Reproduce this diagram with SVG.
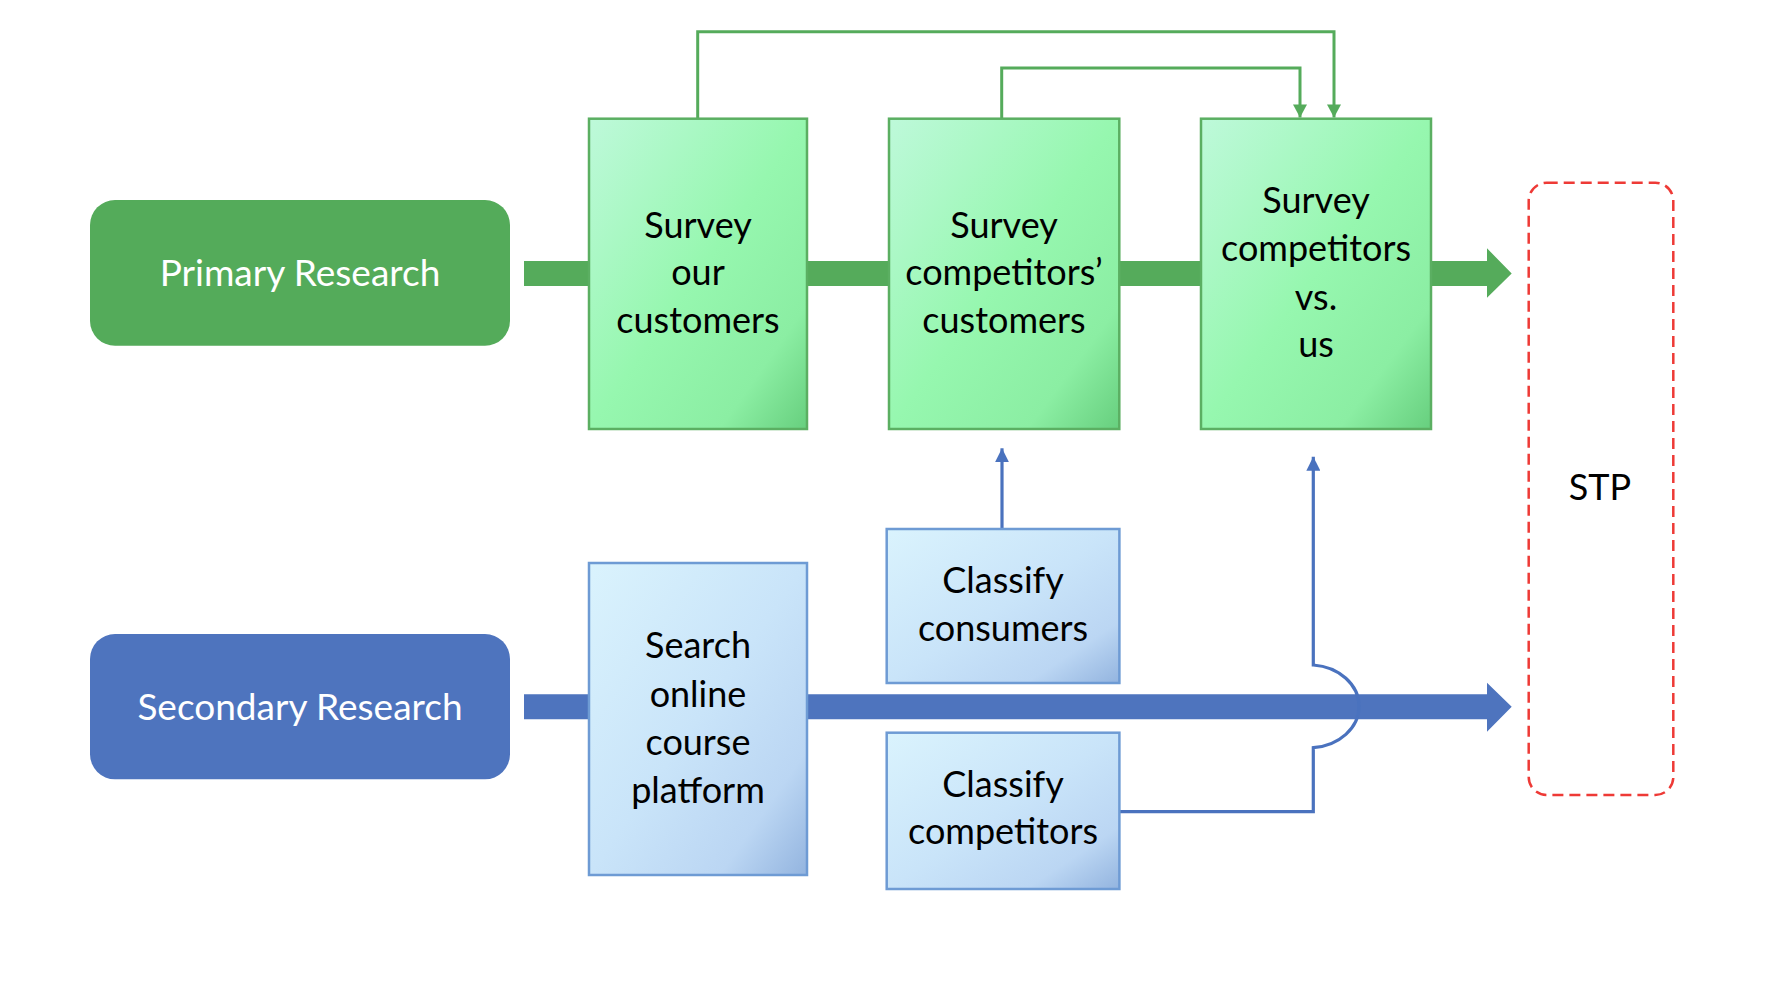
<svg xmlns="http://www.w3.org/2000/svg" width="1788" height="986" viewBox="0 0 1788 986">
<defs>
<linearGradient id="gGreen" x1="0" y1="0" x2="1" y2="1">
<stop offset="0" stop-color="#BEF9DA"/>
<stop offset="0.5" stop-color="#96F7AF"/>
<stop offset="0.8" stop-color="#8BEEA3"/>
<stop offset="1" stop-color="#67CF7E"/>
</linearGradient>
<linearGradient id="gBlue" x1="0" y1="0" x2="1" y2="1">
<stop offset="0" stop-color="#DAF3FD"/>
<stop offset="0.5" stop-color="#C9E4F9"/>
<stop offset="0.8" stop-color="#BBD6F3"/>
<stop offset="1" stop-color="#93B4DF"/>
</linearGradient>
<marker id="arrG" markerUnits="userSpaceOnUse" markerWidth="14" markerHeight="14" viewBox="0 0 12 13" refX="12" refY="6.5" orient="auto">
<path d="M0,0 L12,6.5 L0,13 Z" fill="#55AB5B"/>
</marker>
<marker id="arrB" markerUnits="userSpaceOnUse" markerWidth="14" markerHeight="14" viewBox="0 0 13 13" refX="13" refY="6.5" orient="auto">
<path d="M0,0 L13,6.5 L0,13 Z" fill="#4A72BE"/>
</marker>
</defs>
<style>
.t{font-family:Lato,"Open Sans","Liberation Sans",sans-serif;font-size:36px;fill:#000;text-anchor:middle}
.w{font-family:Lato,"Open Sans","Liberation Sans",sans-serif;font-size:37px;fill:#fff;text-anchor:middle}
.gbox{fill:url(#gGreen);stroke:#5BAF62;stroke-width:2.5}
.bbox{fill:url(#gBlue);stroke:#6E9BD4;stroke-width:2.5}
.gl{fill:none;stroke:#55AB5B;stroke-width:3}
.bl{fill:none;stroke:#4A72BE;stroke-width:3.2}
</style>
<rect width="1788" height="986" fill="#fff"/>
<g id="connectors">
<path d="M524,261 H1487 V248.3 L1511.7,273.5 L1487,297.7 V286 H524 Z" fill="#55AB5B"/>
<path d="M524,694.3 H1487 V682.7 L1511.7,706.8 L1487,731.7 V719.3 H524 Z" fill="#4E74BE"/>
<path class="gl" d="M697.7,118 V31.7 H1334 V117.5" marker-end="url(#arrG)"/>
<path class="gl" d="M1001.7,118 V68 H1300 V117.5" marker-end="url(#arrG)"/>
<path class="bl" d="M1002,528.7 V448.3" marker-end="url(#arrB)"/>
<path class="bl" d="M1119,811.7 H1313.3 V747.7 A50 41.5 0 0 0 1313.3 665 V456.7" marker-end="url(#arrB)"/>
</g>
<g id="primary">
<rect x="90" y="200" width="420" height="145.7" rx="25" fill="#54AB5A"/>
<text class="w" x="300" y="286">Primary Research</text>
</g>
<g id="secondary">
<rect x="90" y="634" width="420" height="145.3" rx="25" fill="#4E74BE"/>
<text class="w" x="300" y="720">Secondary Research</text>
</g>
<g id="survey-our">
<rect class="gbox" x="589" y="118.7" width="218" height="310.3"/>
<text class="t" x="698" y="237.7">Survey</text>
<text class="t" x="698" y="285">our</text>
<text class="t" x="698" y="333">customers</text>
</g>
<g id="survey-comp-cust">
<rect class="gbox" x="889" y="118.7" width="230.3" height="310.3"/>
<text class="t" x="1004" y="237.7">Survey</text>
<text class="t" x="1004" y="285">competitors’</text>
<text class="t" x="1004" y="333">customers</text>
</g>
<g id="survey-vs">
<rect class="gbox" x="1201" y="118.7" width="230" height="310.3"/>
<text class="t" x="1316" y="213.3">Survey</text>
<text class="t" x="1316" y="261">competitors</text>
<text class="t" x="1316" y="310">vs.</text>
<text class="t" x="1316" y="357.3">us</text>
</g>
<g id="search">
<rect class="bbox" x="589" y="563" width="218" height="312"/>
<text class="t" x="698" y="658.3">Search</text>
<text class="t" x="698" y="706.7">online</text>
<text class="t" x="698" y="755">course</text>
<text class="t" x="698" y="803.3">platform</text>
</g>
<g id="classify-consumers">
<rect class="bbox" x="886.7" y="529" width="232.7" height="154"/>
<text class="t" x="1003" y="593.3">Classify</text>
<text class="t" x="1003" y="640.7">consumers</text>
</g>
<g id="classify-competitors">
<rect class="bbox" x="886.7" y="732.7" width="232.7" height="156.3"/>
<text class="t" x="1003" y="796.7">Classify</text>
<text class="t" x="1003" y="844">competitors</text>
</g>
<g id="stp">
<rect x="1528.7" y="182.7" width="144.6" height="612.3" rx="18" fill="none" stroke="#EE3A36" stroke-width="2.5" stroke-dasharray="11 6"/>
<text class="t" x="1600" y="500">STP</text>
</g>
</svg>
